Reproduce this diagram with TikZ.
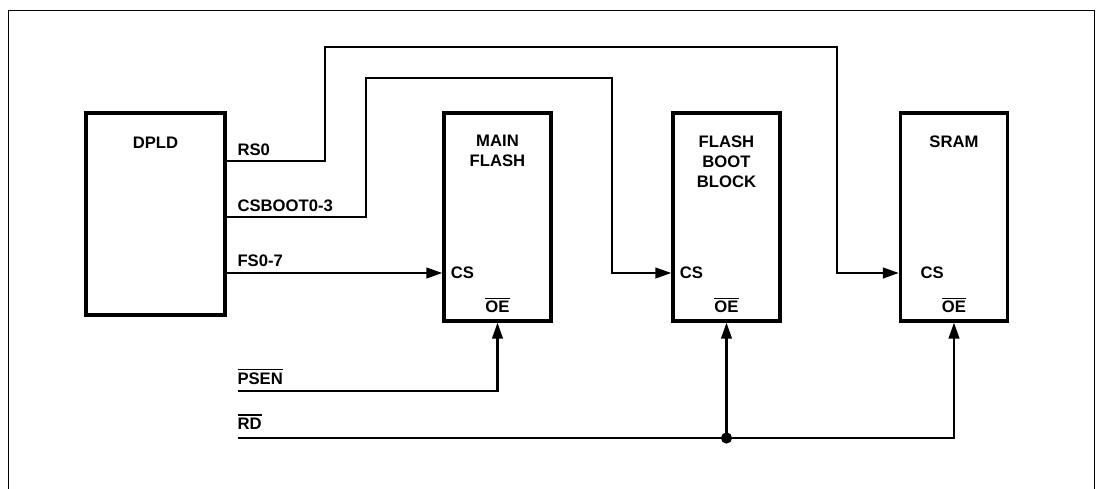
\documentclass[tikz,border=0pt]{standalone}
\usepackage{fontspec}
\setmainfont{Liberation Sans}
\usetikzlibrary{arrows.meta}

\newcommand{\barsig}[1]{\leavevmode\vbox{\hrule height 0.9pt \kern 1.5pt \hbox{#1}}}

\tikzset{every picture/.style={line width=0.75pt}}
\tikzset{
  chipbox/.style={draw, line width=2.5pt, minimum width=80.25pt, minimum height=156pt, inner sep=0pt},
  lbl/.style={inner sep=0pt, font=\fontsize{12.5}{15}\selectfont\bfseries},
  sig/.style={line width=1.6pt},
  sigarrow/.style={sig, -{Triangle[length=12pt,width=8pt]}},
}

\begin{document}
\begin{tikzpicture}[x=0.75pt,y=0.75pt,yscale=-1,xscale=1]
\useasboundingbox (0,0) rectangle (1101,489);

%Shape: Frame
    \draw  (8,489) -- (8,10) -- (1094,10) -- (1094,489) ;

%Shape: Rectangle [DPLD]
    \node [chipbox, minimum width=104.25pt, minimum height=151.5pt] (dpld) at (155.5,214) {};
%Shape: Rectangle [MAIN FLASH]
    \node [chipbox] (mainflash) at (497.5,217) {};
%Shape: Rectangle [FLASH BOOT BLOCK]
    \node [chipbox] (bootblock) at (726.5,217) {};
%Shape: Rectangle [SRAM]
    \node [chipbox] (sram) at (954,217) {};

% Text Node
    \node [lbl, anchor=north, align=center] (dpldtitle) at (155.5,137) {DPLD};
% Text Node
    \node [lbl, anchor=north, align=center] (mftitle) at (497.5,135) {MAIN\\FLASH};
% Text Node
    \node [lbl, anchor=north, align=center] (bbtitle) at (726.5,135) {FLASH\\BOOT\\BLOCK};
% Text Node
    \node [lbl, anchor=north, align=center] (sramtitle) at (954,135) {SRAM};

% Text Node
    \node [lbl, anchor=west] (cs1) at ([xshift=6pt,yshift=42pt]mainflash.west) {CS};
% Text Node
    \node [lbl, anchor=west] (cs2) at ([xshift=6pt,yshift=42pt]bootblock.west) {CS};
% Text Node
    \node [lbl, anchor=west] (cs3) at ([xshift=16pt,yshift=42pt]sram.west) {CS};
% Text Node
    \node [lbl, anchor=base] (oe1) at ([yshift=-7.5pt]mainflash.south) {\barsig{OE}};
% Text Node
    \node [lbl, anchor=base] (oe2) at ([yshift=-7.5pt]bootblock.south) {\barsig{OE}};
% Text Node
    \node [lbl, anchor=base] (oe3) at ([yshift=-7.5pt]sram.south) {\barsig{OE}};

% Text Node
    \node [lbl, anchor=base west] (rslbl) at (237,155) {RS0};
% Text Node
    \node [lbl, anchor=base west] (csbootlbl) at (237,211) {CSBOOT0-3};
% Text Node
    \node [lbl, anchor=base west] (fslbl) at (237,266) {FS0-7};
% Text Node
    \node [lbl, anchor=base west] (psenlbl) at (237,384) {\barsig{PSEN}};
% Text Node
    \node [lbl, anchor=base west] (rdlbl) at (237,429) {\barsig{RD}};

% Signal ends
    \coordinate (rs0) at (dpld.east |- 0,161);
    \coordinate (csboot) at (dpld.east |- 0,217);
    \coordinate (fs0) at (dpld.east |- 0,273);
    \coordinate (psen) at (238,391);
    \coordinate (rd) at (238,438);
    \coordinate (junc) at (bootblock.south |- rd);

%Straight Lines [RS0]
    \draw [sigarrow] (rs0) -| (325,47) -| (837,273) -- (sram.west |- 0,273) ;
%Straight Lines [CSBOOT0-3]
    \draw [sigarrow] (csboot) -| (366,78) -| (612,273) -- (bootblock.west |- 0,273) ;
%Straight Lines [FS0-7]
    \draw [sigarrow] (fs0) -- (mainflash.west |- fs0) ;
%Straight Lines [PSEN]
    \draw [sigarrow] (psen) -| (mainflash.south) ;
%Straight Lines [RD]
    \draw [sigarrow] (rd) -| (sram.south) ;
    \draw [sigarrow] (junc) -- (bootblock.south) ;
    \fill (junc) circle (4.2pt) ;

\end{tikzpicture}
\end{document}
